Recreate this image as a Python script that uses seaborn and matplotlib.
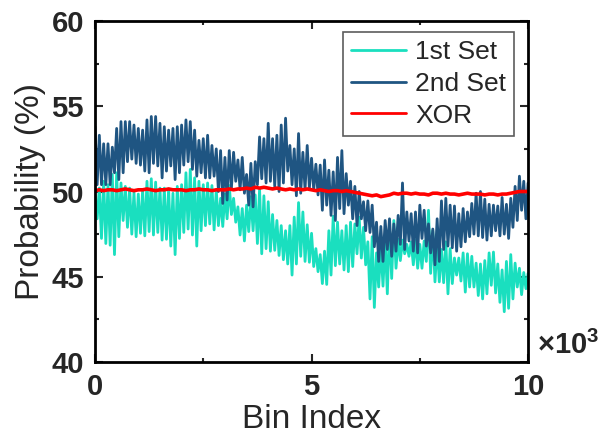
import numpy as np
import matplotlib
matplotlib.use('Agg')
import matplotlib.pyplot as plt
from matplotlib.ticker import MultipleLocator
import seaborn as sns

sns.set_style('ticks')
plt.rcParams['font.family'] = ['Liberation Sans', 'DejaVu Sans']
plt.rcParams['mathtext.fontset'] = 'custom'
plt.rcParams['mathtext.rm'] = 'Liberation Sans'
plt.rcParams['mathtext.bf'] = 'Liberation Sans:bold'

# bin index, every 100 bins
bins = np.arange(0, 10001, 100)

# 1st set: upper / lower envelope of the noisy trace (%)
set1_hi = [49.8, 50.2, 50.6, 50.4, 51.0, 51.1, 50.5, 50.3, 50.2, 49.95,
           49.85, 50.1, 50.6, 50.75, 50.55, 50.2, 50.2, 50.15, 49.9, 50.3,
           50.4, 51.1, 51.3, 50.8, 50.6, 50.4, 50.5, 50.35, 50.1, 49.6,
           49.85, 50.35, 49.6, 49.1, 49.0, 49.2, 49.7, 49.8, 50.15, 49.75,
           49.4, 48.65, 48.3, 48.0, 47.7, 48.0, 48.5, 49.35, 48.8, 48.05,
           47.55, 46.65, 46.3, 46.5, 47.7, 48.55, 48.2, 47.7, 48.0, 48.2,
           48.1, 48.5, 47.9, 47.05, 47.35, 46.4, 46.76, 47.15, 48.0, 48.3,
           47.2, 47.15, 46.9, 47.05, 47.15, 46.9, 47.1, 48.9, 47.7, 46.9,
           46.6, 47.05, 46.65, 46.1, 46.1, 46.4, 46.35, 46.2, 45.8, 45.75,
           45.95, 46.4, 46.45, 45.75, 45.4, 45.9, 46.3, 45.8, 45.5, 45.25,
           45.2]
set1_lo = [48.4, 47.25, 46.95, 46.85, 46.3, 47.35, 48.3, 47.9, 47.5, 47.35,
           47.55, 47.4, 47.65, 47.45, 47.6, 47.15, 47.2, 46.8, 46.3, 47.25,
           47.6, 47.8, 47.45, 46.8, 47.7, 48.0, 48.1, 47.75, 48.0, 47.95,
           48.4, 48.65, 48.2, 47.45, 47.1, 47.65, 47.7, 46.95, 46.35, 46.65,
           46.5, 46.55, 46.25, 46.0, 45.75, 45.1, 45.75, 46.2, 45.9, 45.85,
           45.6, 45.3, 44.6, 44.55, 45.1, 45.65, 45.75, 45.4, 45.3, 45.6,
           46.35, 46.1, 45.7, 43.7, 43.2, 44.4, 44.45, 44.0, 44.9, 45.5,
           45.95, 46.35, 46.2, 45.7, 45.5, 45.5, 45.9, 45.2, 44.7, 44.7,
           44.65, 44.0, 44.6, 45.1, 44.75, 44.1, 44.4, 44.4, 43.9, 43.7,
           44.0, 44.5, 44.05, 43.5, 42.95, 43.15, 43.7, 44.4, 43.95, 44.3,
           44.4]

# 2nd set
set2_hi = [53.8, 53.3, 52.8, 52.8, 52.6, 53.7, 54.1, 54.1, 54.1, 53.9,
           53.7, 53.6, 54.2, 54.4, 54.4, 54.0, 53.8, 53.6, 53.7, 53.8,
           53.9, 54.2, 54.1, 53.6, 53.0, 53.1, 53.3, 52.7, 52.5, 52.4,
           52.0, 52.4, 52.3, 51.85, 52.0, 51.0, 51.65, 51.75, 53.2, 53.1,
           54.0, 53.1, 53.3, 53.9, 54.3, 52.7, 52.5, 53.4, 52.3, 52.7,
           51.95, 51.6, 51.55, 51.85, 51.25, 51.15, 52.0, 52.4, 51.05, 50.6,
           50.3, 50.0, 49.4, 49.45, 49.2, 48.2, 47.95, 48.3, 48.4, 48.1,
           48.6, 50.5, 48.8, 48.7, 48.8, 49.2, 48.9, 48.1, 47.8, 48.4,
           49.45, 49.6, 49.2, 49.15, 48.7, 49.0, 48.8, 49.3, 49.9, 50.0,
           49.55, 49.25, 49.2, 49.15, 49.65, 49.25, 49.6, 50.3, 50.9, 50.6,
           50.5]
set2_lo = [50.4, 50.4, 50.4, 50.4, 51.1, 50.7, 51.1, 51.75, 51.9, 51.65,
           51.55, 51.2, 51.1, 51.65, 51.5, 50.8, 51.2, 51.5, 50.7, 51.1,
           51.55, 51.75, 51.3, 50.9, 51.1, 50.8, 50.8, 50.9, 50.0, 49.3,
           49.5, 50.2, 50.6, 50.1, 49.9, 49.2, 49.1, 50.4, 50.75, 50.5,
           50.6, 50.3, 50.0, 50.5, 51.2, 50.4, 49.75, 49.9, 50.1, 50.2,
           50.1, 49.8, 48.9, 49.2, 48.6, 48.3, 49.0, 48.7, 49.2, 48.4,
           48.0, 48.4, 47.7, 47.6, 46.76, 45.9, 45.9, 46.6, 46.2, 46.5,
           46.9, 46.6, 47.1, 46.5, 46.4, 47.25, 46.8, 46.4, 45.7, 45.9,
           46.6, 46.8, 46.7, 46.5, 46.76, 47.05, 47.35, 47.5, 47.4, 47.3,
           47.15, 47.4, 47.7, 47.4, 47.5, 47.25, 47.9, 48.3, 48.9, 48.4,
           48.3]

# XOR of both sets
xor_vals = [50.05, 50.1, 50.05, 50.1, 50.1, 50.05, 50.1, 50.15, 50.1, 50.05,
            50.1, 50.1, 50.15, 50.1, 50.05, 50.1, 50.1, 50.15, 50.1, 50.1,
            50.1, 50.05, 50.1, 50.1, 50.15, 50.1, 50.1, 50.05, 50.1, 50.1,
            50.1, 50.15, 50.1, 50.15, 50.15, 50.2, 50.15, 50.25, 50.2, 50.25,
            50.2, 50.15, 50.2, 50.15, 50.1, 50.15, 50.1, 50.15, 50.1, 50.15,
            50.1, 50.05, 50.1, 50.05, 50.0, 50.05, 50.05, 50.0, 50.05, 50.0,
            49.95, 49.9, 49.85, 49.8, 49.75, 49.8, 49.7, 49.75, 49.8, 49.9,
            49.85, 49.9, 49.9, 49.85, 49.9, 49.85, 49.85, 49.8, 49.9, 49.9,
            49.85, 49.9, 49.85, 49.85, 49.8, 49.85, 49.9, 49.85, 49.85, 49.85,
            49.8, 49.85, 49.85, 49.8, 49.85, 49.85, 49.9, 49.95, 50.0, 50.0,
            50.0]

c1 = '#1adfbf'
c2 = '#1f5582'
c3 = '#ff0000'


def zigzag(hi, lo):
    # trace alternates between the read upper and lower extremes
    x = np.empty(2 * len(bins))
    y = np.empty(2 * len(bins))
    x[0::2] = bins
    x[1::2] = bins + 50
    y[0::2] = hi
    y[1::2] = lo
    return x, y


fig = plt.figure(figsize=(6.07, 4.36), dpi=100)
ax = fig.add_axes([0.1565, 0.1697, 0.7135, 0.7821])

x1, y1 = zigzag(set1_hi, set1_lo)
x2, y2 = zigzag(set2_hi, set2_lo)
sns.lineplot(x=x1, y=y1, color=c1, lw=2.0, label='1st Set', ax=ax,
             estimator=None, sort=False)
sns.lineplot(x=x2, y=y2, color=c2, lw=2.0, label='2nd Set', ax=ax,
             estimator=None, sort=False)
sns.lineplot(x=bins, y=xor_vals, color=c3, lw=2.6, label='XOR', ax=ax,
             estimator=None, sort=False)

ax.set_xlim(0, 10000)
ax.set_ylim(40, 60)
ax.set_xticks([0, 5000, 10000])
ax.set_xticklabels(['0', '5', '10'])
ax.xaxis.set_minor_locator(MultipleLocator(2500))
ax.set_yticks([40, 45, 50, 55, 60])
ax.yaxis.set_minor_locator(MultipleLocator(2.5))
ax.tick_params(which='both', direction='in', top=True, right=True,
               width=1.5, labelsize=21)
ax.tick_params(which='major', length=6, pad=8)
ax.tick_params(which='minor', length=3)
for lab in ax.get_xticklabels() + ax.get_yticklabels():
    lab.set_fontweight('bold')
for sp in ax.spines.values():
    sp.set_linewidth(2)
    sp.set_color('black')

ax.set_xlabel('Bin Index', fontsize=24, labelpad=2)
ax.set_ylabel('Probability (%)', fontsize=24, labelpad=4)

leg = ax.legend(loc='upper right', bbox_to_anchor=(0.968, 0.968),
                fontsize=19, frameon=True, fancybox=False, handlelength=2.1,
                handletextpad=0.35, labelspacing=0.3, borderpad=0.3,
                borderaxespad=0)
leg.get_frame().set_edgecolor('#333333')
leg.get_frame().set_linewidth(1.2)
for ln in leg.get_lines():
    ln.set_linewidth(2)

fig.text(0.884, 0.174, r'$\mathbf{\times 10^3}$', fontsize=21,
         ha='left', va='bottom')

plt.savefig('out.png', dpi=100)
plt.close()
